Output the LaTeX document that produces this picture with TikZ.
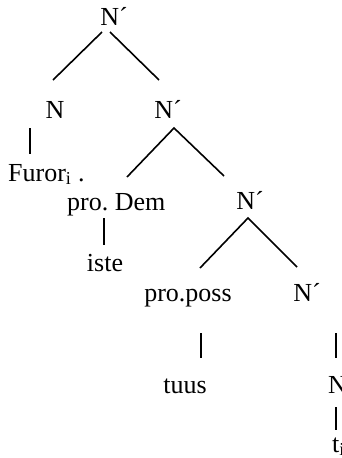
\documentclass[tikz,border=0pt]{standalone}
\usepackage{fontspec}
\setmainfont{Liberation Serif}
\begin{document}
\begin{tikzpicture}[x=1pt,y=-1pt,
  lab/.style={inner sep=0pt,anchor=base,font=\fontsize{26}{30}\selectfont},
  labw/.style={inner sep=0pt,anchor=base west,font=\fontsize{26}{30}\selectfont},
  br/.style={line width=1.6pt,line cap=butt}]
\useasboundingbox (0,0) rectangle (342,458);
\clip (0,0) rectangle (342,458);
% nodes
\node[lab] (n0) at (114,25) {N´};
\node[lab] (n1) at (55,118) {N};
\node[lab] (n2) at (168,118) {N´};
\node[labw] (furor) at (8,181) {Furor\textsubscript{i}\ .};
\node[labw] (dem) at (67,210) {pro.\ Dem};
\node[lab] (iste) at (105,271) {iste};
\node[lab] (n3) at (250,209) {N´};
\node[lab] (poss) at (188,301) {pro.poss};
\node[lab] (n4) at (307,301) {N´};
\node[lab] (tuus) at (185,393) {tuus};
\node[labw] (n5) at (328,393) {N};
\node[labw] (ti) at (332,452) {t\textsubscript{i}};
% connector endpoints
\coordinate (a0l) at (102,32); \coordinate (b0l) at (53,80);
\coordinate (a0r) at (110,32); \coordinate (b0r) at (159,80);
\coordinate (a1) at (30,128);  \coordinate (b1) at (30,154);
\coordinate (a2) at (174,128); \coordinate (b2l) at (127,177); \coordinate (b2r) at (224,176);
\coordinate (a3) at (104,218); \coordinate (b3) at (104,245);
\coordinate (a4) at (248,218); \coordinate (b4l) at (200,268); \coordinate (b4r) at (297,267);
\coordinate (a5) at (201,333); \coordinate (b5) at (201,358);
\coordinate (a6) at (336,333); \coordinate (b6) at (336,358);
\coordinate (a7) at (336,407); \coordinate (b7) at (336,430);
% connectors
\draw[br] (a0l) -- (b0l);
\draw[br] (a0r) -- (b0r);
\draw[br] (a1) -- (b1);
\draw[br] (b2l) -- (a2) -- (b2r);
\draw[br] (a3) -- (b3);
\draw[br] (b4l) -- (a4) -- (b4r);
\draw[br] (a5) -- (b5);
\draw[br] (a6) -- (b6);
\draw[br] (a7) -- (b7);
\end{tikzpicture}
\end{document}
